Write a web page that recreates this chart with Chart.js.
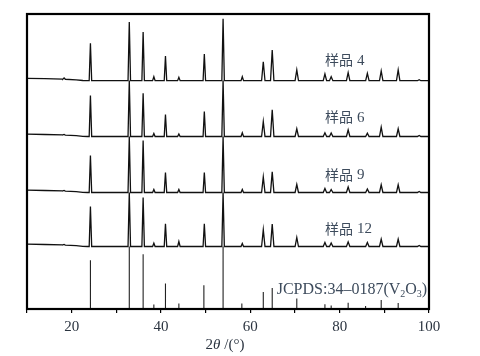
<!DOCTYPE html>
<html>
<head>
<meta charset="utf-8">
<script src="https://cdn.jsdelivr.net/npm/chart.js@4/dist/chart.umd.min.js"></script>
<style>
  html, body { margin: 0; padding: 0; background: #fff; }
  #wrap { width: 480px; height: 356px; }
</style>
</head>
<body>
<div id="wrap"><canvas id="xrd" width="480" height="356"></canvas></div>
<script>
// 2theta positions of the sample peaks (deg)
const peakPos = [18.3, 24.2, 32.9, 36.0, 38.4, 41.0, 44.0, 49.7, 53.9, 58.2, 62.9, 64.9, 70.4, 76.7, 78.1, 81.9, 86.2, 89.3, 93.1, 97.8];
// peak heights (a.u.)
const sample4 = [1.3, 37.4, 58.7, 48.7, 4, 24.7, 3.4, 26.7, 62, 4, 19, 30.7, 10.7, 6.7, 4, 8, 7.4, 9.7, 10.7, 1];
const sample6 = [0.5, 41, 56, 43.3, 3, 22, 2.5, 25, 56, 3.7, 15, 26.7, 7.7, 3.7, 3.5, 6.7, 3.3, 9.3, 7.7, 1];
const sample9 = [0.5, 37, 56, 52, 3, 20, 3, 20, 56, 3, 15.6, 20.6, 8, 4, 3, 5.6, 3.5, 7.7, 7.7, 1];
const sample12 = [0.5, 40, 54, 49, 3.3, 22.7, 5, 22.7, 54, 3, 16.7, 22.4, 9, 4, 3.5, 4.7, 4, 7.4, 7.4, 1];

// low angle background of the measured patterns
const bgPos = [10, 14, 18, 21, 22.5, 23.5];
const bgVal = [2.4, 2.0, 1.6, 0.8, 0.2, 0];

// JCPDS 34-0187 (V2O3) stick pattern
const refPos = [24.2, 32.9, 36.0, 38.4, 41.0, 44.0, 49.6, 53.9, 58.1, 62.9, 64.9, 70.4, 76.7, 78.1, 81.9, 85.8, 89.3, 93.1];
const refInt = [48.7, 62.5, 54.7, 4.4, 25.4, 5.4, 23.7, 62.5, 5.4, 17, 21, 10.5, 4.7, 3.5, 6.2, 3, 9, 6];

// vertical offsets of the stacked patterns
const offsets = [228.3, 172.5, 116.5, 62.5, 0];
const seriesNames = ['样品 4', '样品 6', '样品 9', '样品 12'];
const xTickLabels = [20, 40, 60, 80, 100];

function bgAt(x) {
  if (x >= bgPos[bgPos.length - 1]) return 0;
  for (let i = 0; i < bgPos.length - 1; i++) {
    if (x >= bgPos[i] && x <= bgPos[i + 1]) {
      const t = (x - bgPos[i]) / (bgPos[i + 1] - bgPos[i]);
      return bgVal[i] + t * (bgVal[i + 1] - bgVal[i]);
    }
  }
  return bgVal[0];
}

function pattern(heights, off) {
  const pts = [];
  bgPos.forEach((x, i) => pts.push({ x, y: off + bgVal[i] }));
  peakPos.forEach((p, i) => {
    const w = p > 60 ? 0.38 : 0.28;
    pts.push({ x: p - w, y: off + bgAt(p - w) });
    pts.push({ x: p, y: off + bgAt(p) + heights[i] });
    pts.push({ x: p + w, y: off + bgAt(p + w) });
  });
  pts.push({ x: 100, y: off });
  return pts.sort((a, b) => a.x - b.x);
}

function sticks(pos, ints, off) {
  const pts = [{ x: 10, y: off }];
  pos.forEach((p, i) => {
    pts.push({ x: p, y: off });
    pts.push({ x: p, y: off + ints[i] });
    pts.push({ x: p, y: off });
  });
  pts.push({ x: 100, y: off });
  return pts;
}

const allSamples = [sample4, sample6, sample9, sample12];
const datasets = allSamples.map((h, i) => ({
  label: seriesNames[i],
  data: pattern(h, offsets[i]),
  borderColor: '#111',
  borderWidth: 1.3,
  pointRadius: 0,
  tension: 0
}));
datasets.push({
  label: 'JCPDS',
  data: sticks(refPos, refInt, offsets[4]),
  borderColor: '#222',
  borderWidth: 1.1,
  pointRadius: 0,
  tension: 0
});

const labelPlugin = {
  id: 'labels',
  afterDatasetsDraw(chart) {
    const { ctx, chartArea: a, scales: { x, y } } = chart;
    ctx.save();
    ctx.strokeStyle = '#000';
    ctx.lineWidth = 2.2;
    ctx.strokeRect(a.left, a.top, a.right - a.left, a.bottom - a.top);

    ctx.fillStyle = '#3d4b5c';
    ctx.textBaseline = 'middle';
    const labelY = [20.7, 19.8, 18.2, 18.2];
    seriesNames.forEach((name, i) => {
      const px = x.getPixelForValue(76.7);
      const py = y.getPixelForValue(offsets[i] + labelY[i]);
      const [cjk, num] = name.split(' ');
      ctx.font = '14px "Noto Sans CJK SC"';
      ctx.textAlign = 'left';
      ctx.fillText(cjk, px, py);
      const w = ctx.measureText(cjk).width;
      ctx.font = '15px "Liberation Serif"';
      ctx.fillText(num, px + w + 4, py + 1);
    });

    // JCPDS label with subscripts
    let cx = x.getPixelForValue(65.9);
    const by = y.getPixelForValue(15);
    ctx.textBaseline = 'alphabetic';
    const parts = [['JCPDS:34–0187(V', 0], ['2', 1], ['O', 0], ['3', 1], [')', 0]];
    parts.forEach(([t, sub]) => {
      ctx.font = sub ? '10px "Liberation Serif"' : '16px "Liberation Serif"';
      ctx.fillText(t, cx, by + (sub ? 3 : 0));
      cx += ctx.measureText(t).width;
    });

    // axis title 2θ /(°)
    ctx.fillStyle = '#2b3440';
    const tParts = [['2', '15px "Liberation Serif"'], ['θ', 'italic 15px "Liberation Serif"'], [' /(°)', '15px "Liberation Serif"']];
    let total = 0;
    tParts.forEach(([t, f]) => { ctx.font = f; total += ctx.measureText(t).width; });
    let tx = 225 - total / 2;
    ctx.textBaseline = 'middle';
    tParts.forEach(([t, f]) => {
      ctx.font = f;
      ctx.fillText(t, tx, 345);
      tx += ctx.measureText(t).width;
    });
    ctx.restore();
  }
};

new Chart(document.getElementById('xrd'), {
  type: 'line',
  data: { datasets },
  options: {
    responsive: false,
    animation: false,
    layout: { padding: { left: 27, right: 51, top: 14, bottom: 0 } },
    plugins: { legend: { display: false }, tooltip: { enabled: false } },
    scales: {
      x: {
        type: 'linear',
        min: 10,
        max: 100,
        afterFit: s => { s.height = 47; },
        ticks: {
          stepSize: 10,
          autoSkip: false,
          maxRotation: 0,
          padding: 5,
          color: '#2b3440',
          font: { family: 'Liberation Serif', size: 15 },
          callback: v => xTickLabels.includes(v) ? v : ''
        },
        grid: { drawOnChartArea: false, drawTicks: true, tickLength: 4, color: '#000', lineWidth: 1.2 },
        border: { display: true, color: '#000', width: 2 }
      },
      y: {
        display: false,
        min: 0,
        max: 295
      }
    }
  },
  plugins: [labelPlugin]
});
</script>
</body>
</html>
